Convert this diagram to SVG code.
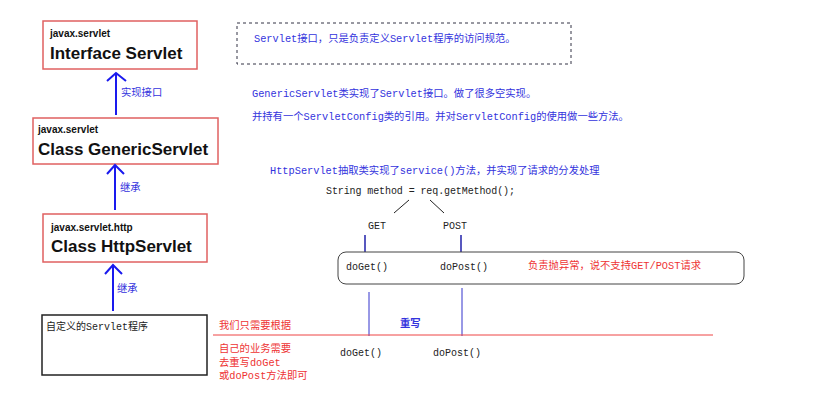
<svg xmlns="http://www.w3.org/2000/svg" width="822" height="412" viewBox="0 0 822 412">
<style>
.cls{fill:#fff;stroke:#e06060;stroke-width:1.5}
.pk{font-family:"Liberation Sans",Arial,sans-serif;font-weight:bold;font-size:10px;fill:#111}
.nm{font-family:"Liberation Sans",Arial,sans-serif;font-weight:bold;font-size:17px;fill:#111}
.bl{font-family:"Liberation Mono","Noto Sans CJK SC",monospace;font-size:10.3px;fill:#3333dd}
.rd{font-family:"Liberation Mono","Noto Sans CJK SC",monospace;font-size:10.3px;fill:#ee3333}
.bk{font-family:"Liberation Mono","Noto Sans CJK SC",monospace;font-size:10px;fill:#222}
.arr{stroke:#1a1aee;stroke-width:2;fill:none}
</style>
<rect width="822" height="412" fill="#fff"/>
<g id="interface"><rect class="cls" x="43" y="21" width="154" height="48"/><text class="pk" x="50" y="37">javax.servlet</text><text class="nm" x="50" y="59">Interface Servlet</text></g>
<g id="generic"><rect class="cls" x="33" y="118" width="185" height="46"/><text class="pk" x="38" y="133">javax.servlet</text><text class="nm" x="38" y="155">Class GenericServlet</text></g>
<g id="http"><rect class="cls" x="43" y="214" width="164" height="48"/><text class="pk" x="51" y="231">javax.servlet.http</text><text class="nm" x="51" y="252">Class HttpServlet</text></g>
<g id="custom"><rect x="42" y="315" width="165" height="60" fill="#fff" stroke="#222" stroke-width="1.5"/><text class="bk" x="46" y="330">自定义的Servlet程序</text></g>
<g id="connectors">
<path class="arr" d="M116 115V73M107 81L116 73L126 81"/>
<path class="arr" d="M115 210V165M107 174L115 165L124 174"/>
<path class="arr" d="M113 311V265M105 274L113 265L122 274"/>
<path d="M394 213L409 200M430 200L444 213" stroke="#222" stroke-width="1"/>
<path d="M365 235V254M461 235V254" stroke="#2222aa" stroke-width="1.5"/>
<path d="M369 292V336M462 288V336" stroke="#3333cc" stroke-width="1"/>
<path d="M213 335H713" stroke="#ee4444" stroke-width="1"/>
</g>
<text class="bl" x="121" y="96">实现接口</text>
<text class="bl" x="120" y="191">继承</text>
<text class="bl" x="117" y="292">继承</text>
<g id="note1"><rect x="237" y="23" width="334" height="41" fill="none" stroke="#334" stroke-dasharray="3,3"/><text class="bl" x="254" y="42">Servlet接口，只是负责定义Servlet程序的访问规范。</text></g>
<text class="bl" x="252" y="97">GenericServlet类实现了Servlet接口。做了很多空实现。</text>
<text class="bl" x="252" y="120">并持有一个ServletConfig类的引用。并对ServletConfig的使用做一些方法。</text>
<text class="bl" x="270" y="174">HttpServlet抽取类实现了service()方法，并实现了请求的分发处理</text>
<text class="bk" x="326" y="194" textLength="189">String method = req.getMethod();</text>
<text class="bk" x="368" y="229">GET</text>
<text class="bk" x="443" y="229">POST</text>
<g id="dispatch"><rect x="338" y="252" width="406" height="32" rx="8" fill="#fff" stroke="#444"/><text class="bk" x="346" y="270">doGet()</text><text class="bk" x="440" y="270">doPost()</text><text class="rd" x="528" y="269">负责抛异常，说不支持GET/POST请求</text></g>
<text class="rd" x="219" y="329">我们只需要根据</text>
<text class="bl" x="400" y="327" font-weight="bold">重写</text>
<text class="rd" x="219" y="352">自己的业务需要</text>
<text class="rd" x="219" y="366">去重写doGet</text>
<text class="rd" x="219" y="379">或doPost方法即可</text>
<text class="bk" x="340" y="356">doGet()</text>
<text class="bk" x="433" y="356">doPost()</text>
</svg>
